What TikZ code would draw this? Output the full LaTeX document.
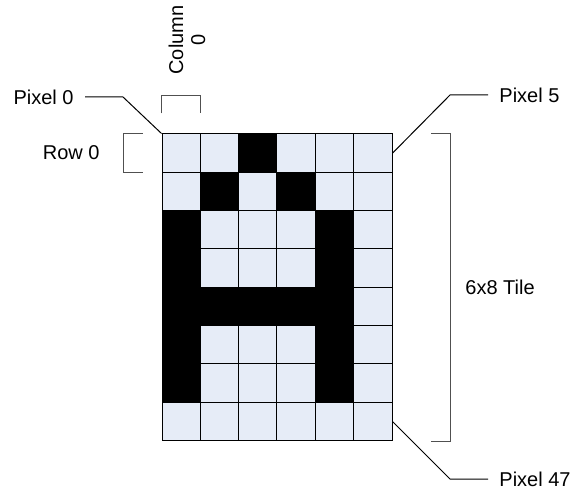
\documentclass[tikz,border=0pt]{standalone}
\usepackage{fontspec}
\setmainfont{Liberation Sans}
\usepackage{xcolor}
\usetikzlibrary{positioning, calc}

\definecolor{pixlight}{RGB}{230,236,247}
\definecolor{brackgray}{RGB}{80,80,80}

\begin{document}
\begin{tikzpicture}[x=0.5pt, y=-0.5pt,
  font=\fontsize{10pt}{11pt}\selectfont,
  cell/.style={rectangle, draw=black, line width=0.5pt, minimum size=19.17pt, inner sep=0pt},
  lbl/.style={inner xsep=5.5pt, inner ysep=0pt},
  leader/.style={draw=black, line width=0.5pt},
  bracket/.style={draw=brackgray, line width=0.6pt}]
\useasboundingbox (0,0) rectangle (576,491);

% the 6x8 tile, one row per line (1 = black)
\foreach \row [count=\r from 0] in {{0,0,1,0,0,0},{0,1,0,1,0,0},{1,0,0,0,1,0},{1,0,0,0,1,0},{1,1,1,1,1,0},{1,0,0,0,1,0},{1,0,0,0,1,0},{0,0,0,0,0,0}} {
  \foreach \v [count=\c from 0] in \row {
    \pgfmathtruncatemacro\n{6*\r+\c}
    \ifnum\v=1 \def\fillcol{black}\else \def\fillcol{pixlight}\fi
    \node (pix\n) [cell, fill=\fillcol] at ({181.17+38.33*\c},{153.17+38.33*\r}) {};
  }
}

% labels
\node (lbl0) [lbl, anchor=east] at (85,97) {Pixel 0};
\node (lbl5) [lbl, anchor=west] at (488,95) {Pixel 5};
\node (lbl47) [lbl, anchor=west] at (488,479) {Pixel 47};
\node (rowlbl) [lbl, anchor=east] at (111,153) {Row 0};
\node (collbl) [rotate=90, align=center, inner sep=0pt] at (187,40) {Column\\0};
\node (tilelbl) [lbl, anchor=west] at (454,287) {6x8 Tile};

% leader lines
\coordinate (k0) at (123,97);
\coordinate (k5) at (450,95);
\coordinate (k47) at (450,479);
\draw [leader] (pix0.north west) -- (k0) -- (lbl0);
\draw [leader] (pix5.east) -- (k5) -- (lbl5);
\draw [leader] (pix47.east) -- (k47) -- (lbl47);

% brackets
\draw [bracket] ([yshift=10pt]pix0.north west) -- ([yshift=19pt]pix0.north west) -- ([yshift=19pt]pix0.north east) -- ([yshift=10pt]pix0.north east);
\draw [bracket] ([xshift=-9.5pt]pix0.north west) -- ([xshift=-19pt]pix0.north west) -- ([xshift=-19pt]pix0.south west) -- ([xshift=-9.5pt]pix0.south west);
\draw [bracket] ([xshift=19.3pt]pix5.north east) -- ([xshift=29pt]pix5.north east) -- ([xshift=29pt]pix47.south east) -- ([xshift=19.3pt]pix47.south east);
\end{tikzpicture}
\end{document}
